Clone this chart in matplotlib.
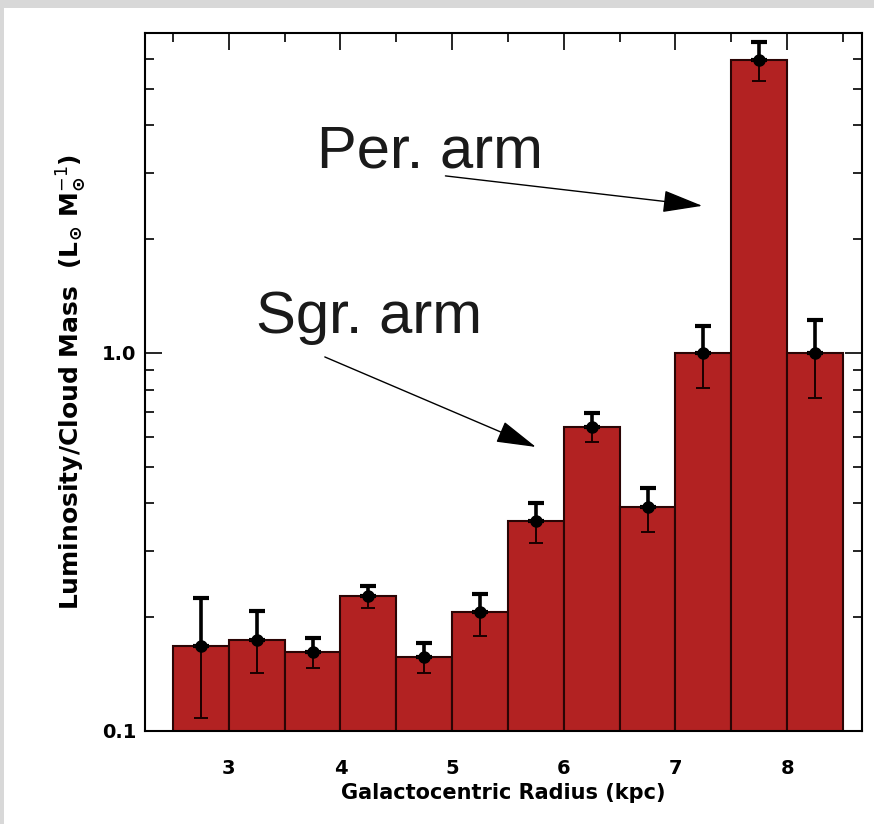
import matplotlib
matplotlib.use('Agg')
import matplotlib.pyplot as plt
import numpy as np
from matplotlib.patches import Rectangle
from matplotlib.ticker import FixedLocator, NullFormatter, MultipleLocator

# luminosity per unit cloud mass in 0.5 kpc radial bins
radius = [2.75, 3.25, 3.75, 4.25, 4.75, 5.25, 5.75, 6.25, 6.75, 7.25, 7.75, 8.25]
lum_per_mass = [0.168, 0.174, 0.162, 0.227, 0.157, 0.206, 0.359, 0.638, 0.391, 1.0, 5.96, 1.0]
err_low = [0.108, 0.142, 0.147, 0.211, 0.142, 0.178, 0.314, 0.583, 0.337, 0.808, 5.24, 0.760]
err_high = [0.225, 0.208, 0.176, 0.242, 0.171, 0.230, 0.401, 0.692, 0.440, 1.179, 6.64, 1.222]
bin_width = 0.5

x_ticks = [3, 4, 5, 6, 7, 8]
y_ticks = [0.1, 1.0]
y_ticklabels = ['0.1', '1.0']

# annotation anchors (data coords)
per_text = (3.79, 3.09)
per_arrow = ((4.94, 2.94), (7.24, 2.45))
sgr_text = (3.24, 1.127)
sgr_arrow = ((3.86, 0.976), (5.75, 0.564))

bar_color = '#b22222'
edge_color = '#2a0505'

fig = plt.figure(figsize=(8.74, 8.24), dpi=100, facecolor='#d8d8d8')
fig.patches.append(Rectangle((4 / 874, 0), 1, 1 - 8 / 824, transform=fig.transFigure,
                             facecolor='white', edgecolor='none', zorder=-1))
ax = fig.add_axes([145 / 874, 1 - 731 / 824, (862 - 145) / 874, (731 - 33) / 824])

x = np.array(radius)
v = np.array(lum_per_mass)
lo = np.array(err_low)
hi = np.array(err_high)

ax.bar(x, v, width=bin_width, color=bar_color, edgecolor=edge_color, linewidth=1.5, zorder=2)

# upper half of the error bars is heavier, lower half thinner
ax.errorbar(x, v, yerr=[np.zeros_like(v), hi - v], fmt='none', ecolor='black',
            elinewidth=2.6, capsize=6, capthick=3, zorder=3)
ax.errorbar(x, v, yerr=[v - lo, np.zeros_like(v)], fmt='none', ecolor='#1a0000',
            elinewidth=1.4, capsize=5, capthick=1.4, zorder=3)
ax.plot(x, v, 'o', color='black', markersize=8, zorder=4)

ax.set_yscale('log')
ax.set_xlim(2.25, 8.67)
ax.set_ylim(0.1, 7.02)

ax.xaxis.set_major_locator(FixedLocator(x_ticks))
ax.xaxis.set_minor_locator(MultipleLocator(0.5))
ax.yaxis.set_major_locator(FixedLocator(y_ticks))
ax.set_yticklabels(y_ticklabels)
minor_y = [m * d for d in (0.1, 1.0) for m in range(2, 10) if m * d < 7.02]
ax.yaxis.set_minor_locator(FixedLocator(minor_y))
ax.yaxis.set_minor_formatter(NullFormatter())

ax.tick_params(which='both', direction='in', top=True, right=True, width=1.2, colors='black')
ax.tick_params(which='major', length=12)
ax.tick_params(which='minor', length=6.5)
ax.tick_params(axis='x', which='major', pad=20)
ax.tick_params(axis='y', which='major', pad=6)
for lab in ax.get_xticklabels() + ax.get_yticklabels():
    lab.set_fontsize(14)
    lab.set_fontweight('bold')
for s in ax.spines.values():
    s.set_linewidth(1.5)

ax.set_xlabel('Galactocentric Radius (kpc)', fontsize=15, fontweight='bold', labelpad=4)
ax.set_ylabel(r'Luminosity/Cloud Mass  (L$_\mathbf{\odot}$ M$_\mathbf{\odot}^{-1}$)',
              fontsize=18, fontweight='bold', labelpad=10)

ann_font = dict(family='Liberation Sans', fontsize=43, color='#1a1a1a')
ax.text(per_text[0], per_text[1], 'Per. arm', ha='left', va='baseline', **ann_font)
ax.text(sgr_text[0], sgr_text[1], 'Sgr. arm', ha='left', va='baseline', **ann_font)
arrow = dict(arrowstyle='-|>,head_length=1.8,head_width=0.5', mutation_scale=14,
             color='black', lw=1.0, shrinkA=0, shrinkB=0)
ax.annotate('', xy=per_arrow[1], xytext=per_arrow[0], arrowprops=arrow)
ax.annotate('', xy=sgr_arrow[1], xytext=sgr_arrow[0], arrowprops=arrow)

fig.savefig('out.png', dpi=100, facecolor=fig.get_facecolor())
